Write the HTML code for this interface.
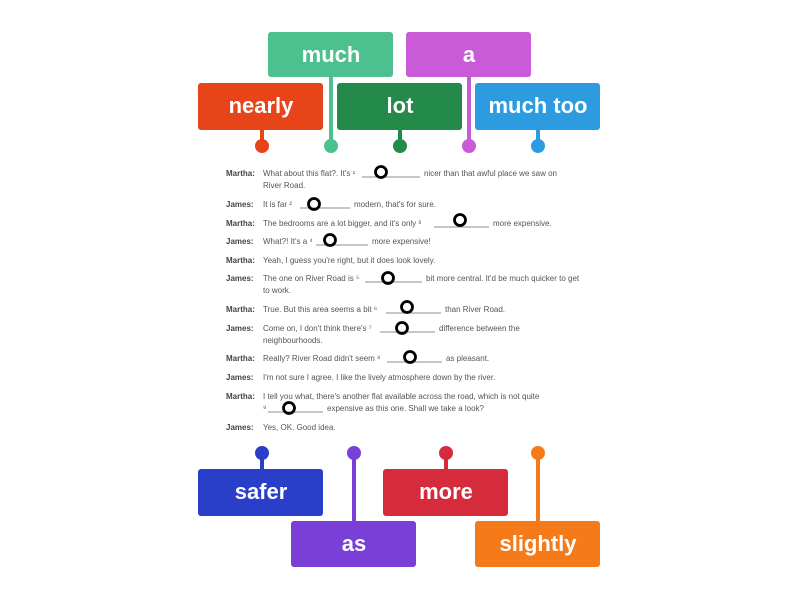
<!DOCTYPE html>
<html><head><meta charset="utf-8"><style>
html,body{margin:0;padding:0;background:#fff;}
svg{display:block}
.w{font-family:"Liberation Sans",sans-serif;font-weight:bold;font-size:22px;fill:#fff;text-anchor:middle}
.t{font-family:"Liberation Sans",sans-serif;font-size:8px;fill:#555}
.s{font-family:"Liberation Sans",sans-serif;font-size:8px;fill:#444;font-weight:bold}
.u{stroke:#666;stroke-width:0.7}
.c{fill:none;stroke:#000;stroke-width:2.8}
</style></head><body>
<svg width="800" height="600" viewBox="0 0 800 600">
<!-- top connectors -->
<g stroke-width="4">
<line x1="331" y1="77" x2="331" y2="146" stroke="#4cc18f"/>
<line x1="469" y1="77" x2="469" y2="146" stroke="#c95ad8"/>
<line x1="262" y1="130" x2="262" y2="146" stroke="#e8441a"/>
<line x1="400" y1="130" x2="400" y2="146" stroke="#238a49"/>
<line x1="538" y1="130" x2="538" y2="146" stroke="#2c9be0"/>
<line x1="262" y1="453" x2="262" y2="469" stroke="#2a3fc9"/>
<line x1="446" y1="453" x2="446" y2="469" stroke="#d62a3d"/>
<line x1="354" y1="453" x2="354" y2="521" stroke="#7a3fd6"/>
<line x1="538" y1="453" x2="538" y2="521" stroke="#f47a1a"/>
</g>
<circle cx="262" cy="146" r="7" fill="#e8441a"/>
<circle cx="331" cy="146" r="7" fill="#4cc18f"/>
<circle cx="400" cy="146" r="7" fill="#238a49"/>
<circle cx="469" cy="146" r="7" fill="#c95ad8"/>
<circle cx="538" cy="146" r="7" fill="#2c9be0"/>
<circle cx="262" cy="453" r="7" fill="#2a3fc9"/>
<circle cx="354" cy="453" r="7" fill="#7a3fd6"/>
<circle cx="446" cy="453" r="7" fill="#d62a3d"/>
<circle cx="538" cy="453" r="7" fill="#f47a1a"/>
<!-- boxes -->
<rect x="268" y="32" width="125" height="45" rx="3" fill="#4cc18f"/><text class="w" x="331" y="62">much</text>
<rect x="406" y="32" width="125" height="45" rx="3" fill="#c95ad8"/><text class="w" x="469" y="62">a</text>
<rect x="198" y="83" width="125" height="47" rx="3" fill="#e8441a"/><text class="w" x="261" y="113">nearly</text>
<rect x="337" y="83" width="125" height="47" rx="3" fill="#238a49"/><text class="w" x="400" y="113">lot</text>
<rect x="475" y="83" width="125" height="47" rx="3" fill="#2c9be0"/><text class="w" x="538" y="113">much too</text>
<rect x="198" y="469" width="125" height="47" rx="3" fill="#2a3fc9"/><text class="w" x="261" y="499">safer</text>
<rect x="383" y="469" width="125" height="47" rx="3" fill="#d62a3d"/><text class="w" x="446" y="499">more</text>
<rect x="291" y="521" width="125" height="46" rx="3" fill="#7a3fd6"/><text class="w" x="354" y="551">as</text>
<rect x="475" y="521" width="125" height="46" rx="3" fill="#f47a1a"/><text class="w" x="538" y="551">slightly</text>
<!-- dialogue -->
<g>
<text class="s" x="226" y="176">Martha:</text><text class="t" x="263" y="176">What about this flat?. It's ¹</text><line class="u" x1="362" y1="177" x2="420" y2="177"/><text class="t" x="424" y="176">nicer than that awful place we saw on</text>
<text class="t" x="263" y="188">River Road.</text>
<text class="s" x="226" y="207">James:</text><text class="t" x="263" y="207">It is far ²</text><line class="u" x1="300" y1="208" x2="350" y2="208"/><text class="t" x="354" y="207">modern, that's for sure.</text>
<text class="s" x="226" y="226">Martha:</text><text class="t" x="263" y="226">The bedrooms are a lot bigger, and it's only ³</text><line class="u" x1="434" y1="227" x2="489" y2="227"/><text class="t" x="493" y="226">more expensive.</text>
<text class="s" x="226" y="244">James:</text><text class="t" x="263" y="244">What?! It's a ⁴</text><line class="u" x1="316" y1="245" x2="368" y2="245"/><text class="t" x="372" y="244">more expensive!</text>
<text class="s" x="226" y="263">Martha:</text><text class="t" x="263" y="263">Yeah, I guess you're right, but it does look lovely.</text>
<text class="s" x="226" y="281">James:</text><text class="t" x="263" y="281">The one on River Road is ⁵</text><line class="u" x1="365" y1="282" x2="422" y2="282"/><text class="t" x="426" y="281">bit more central. It'd be much quicker to get</text>
<text class="t" x="263" y="293">to work.</text>
<text class="s" x="226" y="312">Martha:</text><text class="t" x="263" y="312">True. But this area seems a bit ⁶</text><line class="u" x1="386" y1="313" x2="441" y2="313"/><text class="t" x="445" y="312">than River Road.</text>
<text class="s" x="226" y="331">James:</text><text class="t" x="263" y="331">Come on, I don't think there's ⁷</text><line class="u" x1="380" y1="332" x2="435" y2="332"/><text class="t" x="439" y="331">difference between the</text>
<text class="t" x="263" y="343">neighbourhoods.</text>
<text class="s" x="226" y="361">Martha:</text><text class="t" x="263" y="361">Really? River Road didn't seem ⁸</text><line class="u" x1="387" y1="362" x2="442" y2="362"/><text class="t" x="446" y="361">as pleasant.</text>
<text class="s" x="226" y="380">James:</text><text class="t" x="263" y="380">I'm not sure I agree. I like the lively atmosphere down by the river.</text>
<text class="s" x="226" y="399">Martha:</text><text class="t" x="263" y="399">I tell you what, there's another flat available across the road, which is not quite</text>
<text class="t" x="263" y="411">⁹</text><line class="u" x1="268" y1="412" x2="323" y2="412"/><text class="t" x="327" y="411">expensive as this one. Shall we take a look?</text>
<text class="s" x="226" y="430">James:</text><text class="t" x="263" y="430">Yes, OK. Good idea.</text>
</g>
<g>
<circle class="c" cx="381" cy="172" r="5.5"/>
<circle class="c" cx="314" cy="204" r="5.5"/>
<circle class="c" cx="460" cy="220" r="5.5"/>
<circle class="c" cx="330" cy="240" r="5.5"/>
<circle class="c" cx="388" cy="278" r="5.5"/>
<circle class="c" cx="407" cy="307" r="5.5"/>
<circle class="c" cx="402" cy="328" r="5.5"/>
<circle class="c" cx="410" cy="357" r="5.5"/>
<circle class="c" cx="289" cy="408" r="5.5"/>
</g>
</svg>
</body></html>
